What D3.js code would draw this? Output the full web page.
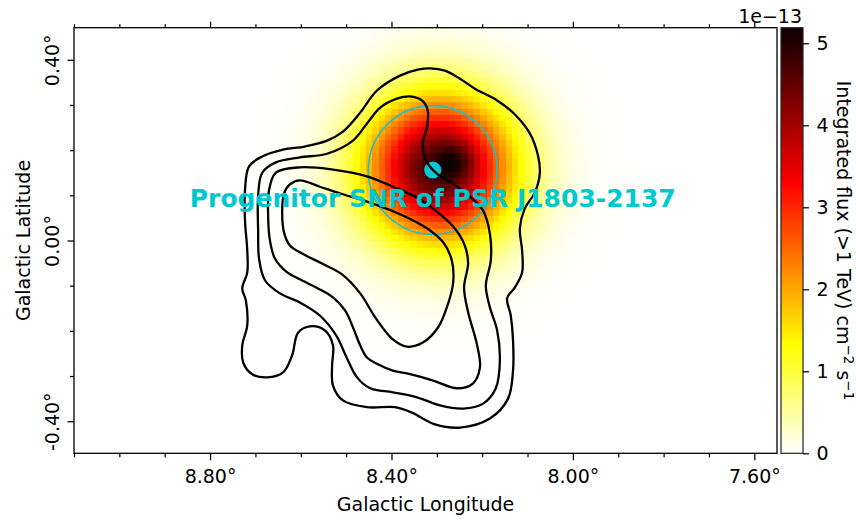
<!DOCTYPE html>
<html>
<head>
<meta charset="utf-8">
<script src="https://cdn.jsdelivr.net/npm/d3@7"></script>
<style>
  body { margin: 0; background: #fff; }
  svg { display: block; }
  text { font-family: "DejaVu Sans", sans-serif; }
</style>
</head>
<body>
<svg id="chart" width="856" height="519"></svg>
<script>
// ---- sky window (degrees, galactic) ----
const lonDomain = [9.10, 7.55];
const latDomain = [-0.471, 0.471];
const lonMajorTicks = [8.8, 8.4, 8.0, 7.6];
const latMajorTicks = [-0.4, 0.0, 0.4];
const lonMinorTicks = [9.1, 9.0, 8.9, 8.7, 8.6, 8.5, 8.3, 8.2, 8.1, 7.9, 7.8, 7.7];
const latMinorTicks = [-0.3, -0.2, -0.1, 0.1, 0.2, 0.3];

// ---- flux map: Gaussian source components (units of 1e-13 cm^-2 s^-1) ----
const compLon = [8.296, 8.260];
const compLat = [0.160, 0.178];
const compSigma = [0.112, 0.026];
const compAmp = [4.85, 0.64];
const pixelSize = 0.014;
const fluxMax = 5.19;
const colorbarTicks = [0, 1, 2, 3, 4, 5];

// ---- progenitor SNR ----
const snrCenter = [8.309, 0.156];
const snrRadius = 0.142;
const snrLabel = "Progenitor SNR of PSR J1803-2137";

// ---- contour levels, outermost first: [lon, lat] ----
const contourLevel1 = [
  [8.315, 0.381], [8.282, 0.376], [8.249, 0.358], [8.216, 0.336], [8.167, 0.310],
  [8.130, 0.281], [8.095, 0.237], [8.077, 0.188], [8.073, 0.148], [8.084, 0.106],
  [8.106, 0.071], [8.117, 0.027], [8.112, -0.022], [8.112, -0.071], [8.128, -0.104],
  [8.145, -0.128], [8.137, -0.166], [8.132, -0.221], [8.132, -0.288], [8.143, -0.350],
  [8.183, -0.394], [8.249, -0.414], [8.304, -0.407], [8.355, -0.381], [8.392, -0.369],
  [8.454, -0.369], [8.507, -0.354], [8.529, -0.321], [8.531, -0.277], [8.529, -0.232],
  [8.547, -0.199], [8.580, -0.190], [8.606, -0.204], [8.619, -0.254], [8.639, -0.292],
  [8.674, -0.303], [8.707, -0.296], [8.727, -0.270], [8.729, -0.232], [8.718, -0.188],
  [8.721, -0.133], [8.729, -0.106], [8.718, -0.071], [8.718, -0.022], [8.723, 0.044],
  [8.723, 0.111], [8.714, 0.164], [8.685, 0.186], [8.639, 0.201], [8.591, 0.208],
  [8.542, 0.221], [8.507, 0.241], [8.469, 0.283], [8.432, 0.332], [8.381, 0.365],
  [8.342, 0.378]
];
const contourLevel2 = [
  [8.602, 0.184], [8.542, 0.192], [8.485, 0.221], [8.454, 0.259], [8.425, 0.294],
  [8.388, 0.314], [8.359, 0.319], [8.333, 0.310], [8.320, 0.288], [8.322, 0.250],
  [8.331, 0.215], [8.324, 0.177], [8.300, 0.148], [8.264, 0.126], [8.227, 0.097],
  [8.198, 0.066], [8.183, 0.015], [8.181, -0.044], [8.192, -0.100], [8.183, -0.148],
  [8.167, -0.199], [8.161, -0.265], [8.170, -0.327], [8.198, -0.361], [8.242, -0.372],
  [8.293, -0.365], [8.344, -0.347], [8.397, -0.336], [8.447, -0.327], [8.476, -0.303],
  [8.498, -0.261], [8.522, -0.210], [8.558, -0.166], [8.602, -0.137], [8.646, -0.117],
  [8.679, -0.088], [8.692, -0.040], [8.694, 0.022], [8.694, 0.100], [8.685, 0.150],
  [8.655, 0.173]
];
const contourLevel3 = [
  [8.602, 0.162], [8.529, 0.157], [8.454, 0.142], [8.397, 0.119], [8.344, 0.095],
  [8.300, 0.064], [8.264, 0.031], [8.240, -0.007], [8.231, -0.049], [8.240, -0.104],
  [8.231, -0.159], [8.212, -0.228], [8.205, -0.281], [8.220, -0.316], [8.256, -0.327],
  [8.308, -0.310], [8.359, -0.296], [8.397, -0.288], [8.430, -0.274], [8.454, -0.259],
  [8.469, -0.232], [8.485, -0.192], [8.502, -0.155], [8.529, -0.126], [8.562, -0.106],
  [8.602, -0.086], [8.632, -0.069], [8.657, -0.040], [8.668, 0.000], [8.672, 0.055],
  [8.670, 0.111], [8.655, 0.150]
];
const contourLevel4 = [
  [8.602, 0.133], [8.558, 0.119], [8.513, 0.104], [8.454, 0.086], [8.381, 0.058],
  [8.322, 0.027], [8.286, -0.004], [8.267, -0.044], [8.264, -0.093], [8.275, -0.139],
  [8.297, -0.192], [8.331, -0.226], [8.366, -0.235], [8.399, -0.217], [8.434, -0.173],
  [8.469, -0.117], [8.509, -0.075], [8.553, -0.051], [8.597, -0.029], [8.624, -0.011],
  [8.637, 0.018], [8.641, 0.062], [8.637, 0.104], [8.624, 0.124]
];
const contours = [contourLevel1, contourLevel2, contourLevel3, contourLevel4];

// ---- layout ----
const plot = { left: 74, right: 777, top: 27.7, bottom: 453.3 };
const cbar = { left: 781, right: 803 };
const svg = d3.select("#chart");

const x = d3.scaleLinear().domain(lonDomain).range([plot.left, plot.right]);
const y = d3.scaleLinear().domain(latDomain).range([plot.bottom, plot.top]);
const c = d3.scaleLinear().domain([0, fluxMax]).range([plot.bottom, plot.top]);

// matplotlib "hot_r" colour map
const hotR = d3.scaleLinear()
  .domain([0, 0.253968 * fluxMax, 0.634921 * fluxMax, fluxMax])
  .range(["#ffffff", "#ffff00", "#ff0000", "#0b0000"])
  .interpolate(d3.interpolateRgb)
  .clamp(true);

function flux(lon, lat) {
  let v = 0;
  for (let i = 0; i < compAmp.length; i++) {
    const dl = lon - compLon[i], db = lat - compLat[i];
    v += compAmp[i] * Math.exp(-(dl * dl + db * db) / (2 * compSigma[i] * compSigma[i]));
  }
  return v;
}

svg.append("defs").append("clipPath").attr("id", "plotClip")
  .append("rect")
  .attr("x", plot.left).attr("y", plot.top)
  .attr("width", plot.right - plot.left).attr("height", plot.bottom - plot.top);

// ---- flux map pixels ----
const cells = [];
const nLon = Math.round(0.9 / pixelSize), nLat = Math.round(0.9 / pixelSize);
for (let i = -nLon / 2; i <= nLon / 2; i++) {
  for (let j = -nLat / 2; j <= nLat / 2; j++) {
    const lon = compLon[0] + i * pixelSize;
    const lat = compLat[0] + j * pixelSize;
    const v = flux(lon, lat);
    if (v > 0.004) cells.push({ lon, lat, v });
  }
}
svg.append("g").attr("clip-path", "url(#plotClip)")
  .selectAll("rect").data(cells).join("rect")
  .attr("x", d => x(d.lon + pixelSize / 2))
  .attr("y", d => y(d.lat + pixelSize / 2))
  .attr("width", d => x(d.lon - pixelSize / 2) - x(d.lon + pixelSize / 2) + 0.4)
  .attr("height", d => y(d.lat - pixelSize / 2) - y(d.lat + pixelSize / 2) + 0.4)
  .attr("fill", d => hotR(d.v))
  .attr("shape-rendering", "crispEdges");

// ---- SNR circle and pulsar marker ----
const over = svg.append("g").attr("clip-path", "url(#plotClip)");
over.append("circle")
  .attr("cx", x(snrCenter[0])).attr("cy", y(snrCenter[1]))
  .attr("r", x(snrCenter[0] - snrRadius) - x(snrCenter[0]))
  .attr("fill", "none").attr("stroke", "#17c3cf").attr("stroke-width", 1.6);
over.append("circle")
  .attr("cx", x(snrCenter[0])).attr("cy", y(snrCenter[1]))
  .attr("r", 8.6).attr("fill", "#00c8d0");

// ---- contours ----
const line = d3.line().x(d => x(d[0])).y(d => y(d[1])).curve(d3.curveCatmullRomClosed.alpha(0.5));
over.selectAll("path.contour").data(contours).join("path")
  .attr("class", "contour")
  .attr("d", line)
  .attr("fill", "none").attr("stroke", "#000").attr("stroke-width", 2.3)
  .attr("stroke-linejoin", "round");

// ---- label ----
over.append("text")
  .attr("x", x(snrCenter[0])).attr("y", y(0.09)).attr("dy", "0.29em")
  .attr("text-anchor", "middle")
  .attr("font-size", 25).attr("font-weight", "bold")
  .attr("fill", "#00c8d0")
  .text(snrLabel);

// ---- axes ----
const fmtDeg = d => d.toFixed(2) + "\u00b0";
const axisStyle = g => {
  g.select(".domain").remove();
  g.selectAll("line").attr("stroke", "#000").attr("stroke-width", 1.25);
  g.selectAll("text").attr("font-size", 19).attr("fill", "#000").attr("font-family", "DejaVu Sans");
};

svg.append("g").attr("transform", `translate(0,${plot.bottom})`)
  .call(d3.axisBottom(x).tickValues(lonMajorTicks).tickFormat(fmtDeg).tickSize(7).tickPadding(9))
  .call(axisStyle);
svg.append("g").attr("transform", `translate(0,${plot.bottom})`)
  .call(d3.axisBottom(x).tickValues(lonMinorTicks).tickFormat("").tickSize(4))
  .call(axisStyle);
svg.append("g").attr("transform", `translate(0,${plot.top})`)
  .call(d3.axisTop(x).tickValues(lonMajorTicks).tickFormat("").tickSize(6))
  .call(axisStyle);
svg.append("g").attr("transform", `translate(0,${plot.top})`)
  .call(d3.axisTop(x).tickValues(lonMinorTicks).tickFormat("").tickSize(3.5))
  .call(axisStyle);

const leftAxis = svg.append("g").attr("transform", `translate(${plot.left},0)`)
  .call(d3.axisLeft(y).tickValues(latMajorTicks).tickFormat(fmtDeg).tickSize(6.5))
  .call(axisStyle);
leftAxis.selectAll(".tick text")
  .attr("x", null).attr("dy", null)
  .attr("text-anchor", "middle")
  .attr("transform", "translate(-15,0) rotate(-90)");
svg.append("g").attr("transform", `translate(${plot.left},0)`)
  .call(d3.axisLeft(y).tickValues(latMinorTicks).tickFormat("").tickSize(4))
  .call(axisStyle);

// frame
svg.append("rect")
  .attr("x", plot.left).attr("y", plot.top)
  .attr("width", plot.right - plot.left).attr("height", plot.bottom - plot.top)
  .attr("fill", "none").attr("stroke", "#000").attr("stroke-width", 1.3);

// axis titles
svg.append("text")
  .attr("x", (plot.left + plot.right) / 2).attr("y", 510.5)
  .attr("text-anchor", "middle").attr("font-size", 19)
  .text("Galactic Longitude");
svg.append("text")
  .attr("transform", `translate(30,${y(0)}) rotate(-90)`)
  .attr("text-anchor", "middle").attr("font-size", 19)
  .text("Galactic Latitude");

// ---- colour bar ----
const cbSteps = d3.range(0, 400).map(i => (i + 0.5) * fluxMax / 400);
svg.append("g").selectAll("rect").data(cbSteps).join("rect")
  .attr("x", cbar.left)
  .attr("y", d => c(d + fluxMax / 800))
  .attr("width", cbar.right - cbar.left)
  .attr("height", c(0) - c(fluxMax / 400) + 0.3)
  .attr("fill", d => hotR(d))
  .attr("shape-rendering", "crispEdges");
svg.append("rect")
  .attr("x", cbar.left).attr("y", plot.top)
  .attr("width", cbar.right - cbar.left).attr("height", plot.bottom - plot.top)
  .attr("fill", "none").attr("stroke", "#222").attr("stroke-width", 1.2);
svg.append("g").attr("transform", `translate(${cbar.right},0)`)
  .call(d3.axisRight(c).tickValues(colorbarTicks).tickFormat(d3.format("d")).tickSize(6).tickPadding(7.5))
  .call(axisStyle);

svg.append("text")
  .attr("x", 802).attr("y", 23)
  .attr("text-anchor", "end").attr("font-size", 19)
  .text("1e\u221213");

const cbLabel = svg.append("text")
  .attr("transform", `translate(837,${y(0)}) rotate(90)`)
  .attr("text-anchor", "middle").attr("font-size", 19);
cbLabel.append("tspan").text("Integrated flux (>1 TeV) cm");
cbLabel.append("tspan").attr("dy", -7).attr("font-size", 13.5).text("\u22122");
cbLabel.append("tspan").attr("dy", 7).text(" s");
cbLabel.append("tspan").attr("dy", -7).attr("font-size", 13.5).text("\u22121");
</script>
</body>
</html>
